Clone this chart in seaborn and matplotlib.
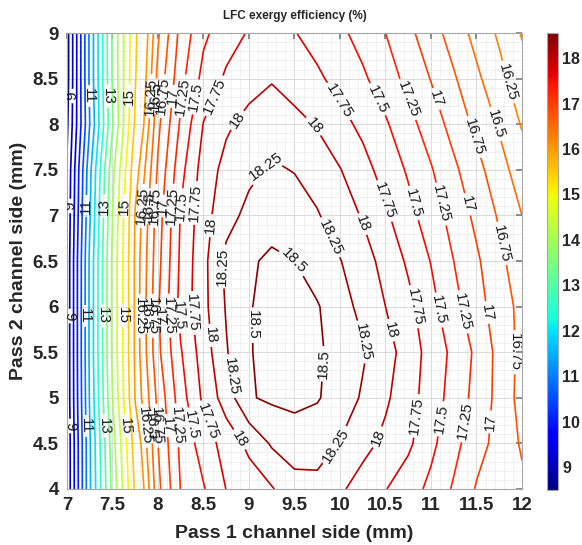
import numpy as np
import matplotlib
matplotlib.use("Agg")
import matplotlib.pyplot as plt
from matplotlib.ticker import MultipleLocator
import seaborn as sns

# grid: pass 1 side (x) and pass 2 side (y), in mm
pass1_side = [7.0, 7.25, 7.5, 7.75, 8.0, 8.25, 8.5, 8.75, 9.0, 9.25, 9.5,
              9.75, 10.0, 10.25, 10.5, 10.75, 11.0, 11.25, 11.5, 11.75, 12.0]
pass2_side = [4.0, 4.5, 5.0, 5.5, 6.0, 6.5, 7.0, 7.5, 8.0, 8.5, 9.0]

# exergy efficiency (%) along each row of pass 2 side
eff_y40 = [8.6, 11.42, 13.65, 15.58, 16.68, 17.26, 17.48, 17.755, 17.87, 17.98, 18.15,
           18.18, 18.04, 17.89, 17.76, 17.61, 17.44, 17.22, 16.98, 16.9, 16.8]
eff_y45 = [8.6, 11.44, 13.77, 15.75, 16.75, 17.31, 17.62, 17.85, 18.06, 18.28, 18.38,
           18.35, 18.24, 18.08, 17.94, 17.8, 17.56, 17.33, 17.09, 16.92, 16.72]
eff_y50 = [8.65, 11.55, 14.0, 16.03, 16.82, 17.39, 17.8, 18.12, 18.48, 18.54, 18.56,
           18.52, 18.39, 18.22, 18.04, 17.85, 17.63, 17.4, 17.17, 16.92, 16.66]
eff_y55 = [8.65, 11.6, 14.1, 16.08, 16.94, 17.48, 17.87, 18.23, 18.49, 18.55, 18.56,
           18.53, 18.43, 18.28, 18.1, 17.89, 17.65, 17.44, 17.2, 16.92, 16.68]
eff_y60 = [8.65, 11.6, 14.1, 16.08, 16.97, 17.58, 17.93, 18.27, 18.49, 18.55, 18.55,
           18.52, 18.35, 18.18, 18.0, 17.82, 17.58, 17.33, 17.1, 16.87, 16.68]
eff_y65 = [8.65, 11.59, 14.1, 16.08, 16.92, 17.55, 17.93, 18.31, 18.47, 18.54, 18.5,
           18.37, 18.26, 18.1, 17.92, 17.71, 17.49, 17.25, 17.04, 16.81, 16.6]
eff_y70 = [8.6, 11.45, 14.0, 16.03, 16.88, 17.52, 17.9, 18.17, 18.31, 18.41, 18.36,
           18.27, 18.12, 17.98, 17.79, 17.58, 17.37, 17.16, 16.94, 16.72, 16.5]
eff_y75 = [8.55, 11.35, 13.85, 15.85, 16.79, 17.42, 17.86, 18.08, 18.2, 18.28, 18.24,
           18.14, 18.01, 17.84, 17.65, 17.47, 17.27, 17.05, 16.83, 16.6, 16.37]
eff_y80 = [8.4, 11.0, 13.45, 15.58, 16.69, 17.29, 17.76, 17.96, 18.08, 18.15, 18.08,
           17.98, 17.83, 17.69, 17.53, 17.33, 17.13, 16.91, 16.69, 16.47, 16.23]
eff_y85 = [8.3, 11.1, 13.55, 15.47, 16.58, 17.17, 17.58, 17.79, 17.9, 17.98, 17.88,
           17.79, 17.67, 17.54, 17.37, 17.18, 16.99, 16.78, 16.55, 16.33, 16.1]
eff_y90 = [8.3, 11.1, 13.57, 15.43, 16.46, 17.08, 17.45, 17.64, 17.77, 17.8, 17.76,
           17.66, 17.55, 17.41, 17.25, 17.06, 16.86, 16.64, 16.42, 16.21, 15.98]

# contour levels: half steps up to 16, quarter steps above
levels = [8.5, 9, 9.5, 10, 10.5, 11, 11.5, 12, 12.5, 13, 13.5, 14, 14.5, 15, 15.5, 16,
          16.25, 16.5, 16.75, 17, 17.25, 17.5, 17.75, 18, 18.25, 18.5]
label_levels = [9, 11, 13, 15, 16.25, 16.5, 16.75, 17, 17.25, 17.5, 17.75, 18, 18.25, 18.5]
cbar_ticks = [9, 10, 11, 12, 13, 14, 15, 16, 17, 18]
cbar_range = (8.5, 18.55)

sns.set_theme(style="white")
plt.rcParams['font.family'] = ['Liberation Sans', 'DejaVu Sans']

eff = np.array([eff_y40, eff_y45, eff_y50, eff_y55, eff_y60, eff_y65,
                eff_y70, eff_y75, eff_y80, eff_y85, eff_y90])
X, Y = np.meshgrid(pass1_side, pass2_side)

fig = plt.figure(figsize=(5.82, 5.45), dpi=100)
ax = fig.add_axes([0.1151, 0.1028, 0.7818, 0.8366])
ax.set_xlim(7, 12)
ax.set_ylim(4, 9)

norm = plt.Normalize(*cbar_range)
cs = ax.contour(X, Y, eff, levels=levels, cmap='jet', norm=norm, linewidths=1.2)

# grid like matlab (major + minor)
ax.xaxis.set_major_locator(MultipleLocator(0.5))
ax.yaxis.set_major_locator(MultipleLocator(0.5))
ax.xaxis.set_minor_locator(MultipleLocator(0.1))
ax.yaxis.set_minor_locator(MultipleLocator(0.1))
ax.grid(which='major', color='#d4d4d4', linewidth=0.6)
ax.grid(which='minor', color='#ececec', linewidth=0.5)
ax.set_axisbelow(True)
ax.xaxis.set_major_formatter(plt.FormatStrFormatter('%g'))
ax.yaxis.set_major_formatter(plt.FormatStrFormatter('%g'))
ax.tick_params(which='both', direction='in', top=True, right=True, color='#808080')
ax.tick_params(which='major', length=4, labelsize=13.5, pad=6)
ax.tick_params(which='minor', length=0)
for lab in ax.get_xticklabels() + ax.get_yticklabels():
    lab.set_fontweight('bold')
for sp in ax.spines.values():
    sp.set_color('#a6a6a6')
    sp.set_linewidth(0.8)

# place labels along each contour at a fixed spacing (like matlab LabelSpacing)
fig.canvas.draw()
spacing = 110.0
spots = []
for lev, segs in zip(cs.levels, cs.allsegs):
    if not np.any(np.isclose(lev, label_levels)):
        continue
    for seg in segs:
        if len(seg) < 2:
            continue
        pix = ax.transData.transform(seg)
        d = np.r_[0, np.cumsum(np.hypot(*np.diff(pix, axis=0).T))]
        total = d[-1]
        if total < 40:
            continue
        n = max(1, int(total // spacing))
        start = (total - (n - 1) * spacing) / 2
        for k in range(n):
            t = start + k * spacing
            spots.append((np.interp(t, d, seg[:, 0]), np.interp(t, d, seg[:, 1])))

# all levels passed here (clabel indexes its label list by level number);
# only the points above decide which lines get a label
ax.clabel(cs, levels=levels, manual=spots, inline=True, inline_spacing=3,
          fmt='%g', fontsize=11, colors='k')

ax.set_title('LFC exergy efficiency (%)', fontsize=8.5, fontweight='bold', pad=10)
ax.set_xlabel('Pass 1 channel side (mm)', fontsize=14, fontweight='bold', labelpad=8)
ax.set_ylabel('Pass 2 channel side (mm)', fontsize=14, fontweight='bold', labelpad=4)

# colorbar
cax = fig.add_axes([0.9399, 0.1009, 0.0189, 0.8385])
sm = plt.cm.ScalarMappable(norm=norm, cmap='jet')
cb = fig.colorbar(sm, cax=cax, ticks=cbar_ticks)
cb.outline.set_edgecolor('#a6a6a6')
cb.outline.set_linewidth(0.8)
cax.tick_params(direction='in', length=3, labelsize=11.5, color='#808080', pad=3)
for lab in cax.get_yticklabels():
    lab.set_fontweight('bold')

fig.savefig('out.png', dpi=100)
